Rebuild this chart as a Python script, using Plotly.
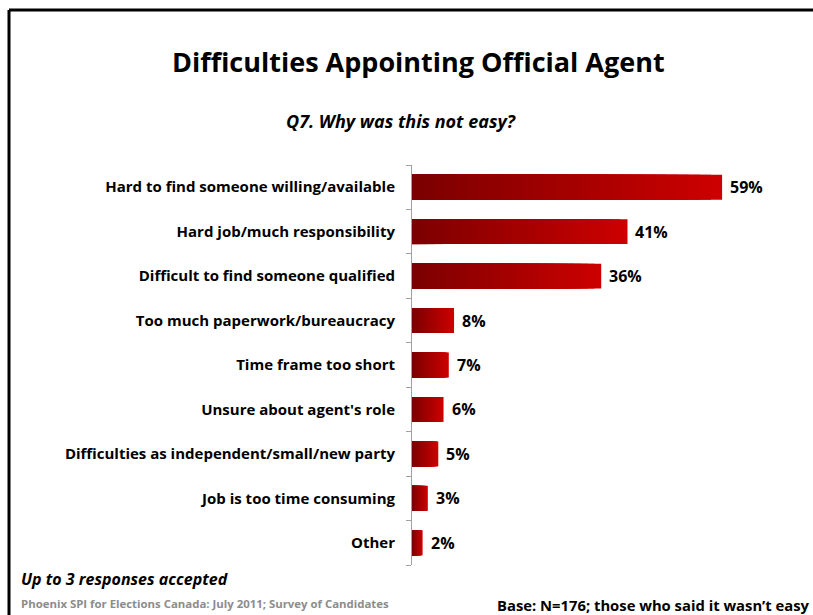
import plotly.graph_objects as go

# Survey responses (share of respondents, %)
categories = [
    "Hard to find someone willing/available",
    "Hard job/much responsibility",
    "Difficult to find someone qualified",
    "Too much paperwork/bureaucracy",
    "Time frame too short",
    "Unsure about agent's role",
    "Difficulties as independent/small/new party",
    "Job is too time consuming",
    "Other",
]
values = [59, 41, 36, 8, 7, 6, 5, 3, 2]
value_labels = ["59%", "41%", "36%", "8%", "7%", "6%", "5%", "3%", "2%"]

W, H = 813, 615
ML, MR, MT, MB = 412, 21, 165, 50
PW, PH = W - ML - MR, H - MT - MB
XMAX = 72.3
FONT = "Open Sans"


def px(x):
    return (x - ML) / PW


def py(y):
    return 1 - (y - MT) / PH


fig = go.Figure()

# Gradient fill: overlay progressively shorter, darker bars on each bar
steps = 28
dark = (0x7A, 0x00, 0x00)
bright = (0xCC, 0x00, 0x00)
for i in range(steps):
    frac = 1 - i / steps
    col = tuple(int(dark[c] + (bright[c] - dark[c]) * frac) for c in range(3))
    fig.add_trace(go.Bar(
        y=categories,
        x=[v * frac for v in values],
        orientation="h",
        marker=dict(color="rgb(%d,%d,%d)" % col, line=dict(width=0)),
        hoverinfo="skip",
        showlegend=False,
    ))

# Value labels at the end of each bar
for cat, v, lab in zip(categories, values, value_labels):
    fig.add_annotation(
        x=v, y=cat, xref="x", yref="y", text="<b>%s</b>" % lab,
        showarrow=False, xanchor="left", xshift=6,
        font=dict(family=FONT, size=16, color="#000000"),
    )

fig.update_layout(
    width=W, height=H,
    margin=dict(l=ML, r=MR, t=MT, b=MB, pad=0),
    paper_bgcolor="white", plot_bgcolor="white",
    barmode="overlay", bargap=0.44,
    font=dict(family=FONT, color="#000000"),
    xaxis=dict(range=[0, XMAX], visible=False, fixedrange=True),
    yaxis=dict(
        categoryorder="array", categoryarray=categories[::-1],
        showline=True, linecolor="#A0A0A0", linewidth=1,
        ticks="outside", tickson="boundaries", ticklen=5, tickcolor="#A0A0A0",
        tickfont=dict(family=FONT, size=15, color="#000000"),
        ticklabelstandoff=13,
        showgrid=False, zeroline=False,
    ),
)

# Bold category labels
fig.update_yaxes(ticktext=["<b>%s</b>" % c for c in categories[::-1]],
                 tickvals=categories[::-1])

# Slide frame (top and left edges)
fig.add_shape(type="line", xref="paper", yref="paper",
              x0=px(9), x1=px(W + 5), y0=py(10), y1=py(10),
              line=dict(color="black", width=3))
fig.add_shape(type="line", xref="paper", yref="paper",
              x0=px(9), x1=px(9), y0=py(10), y1=py(H + 5),
              line=dict(color="black", width=3))

texts = [
    dict(text="<b>Difficulties Appointing Official Agent</b>", x=418, y=61,
         xanchor="center", size=27, color="#000000"),
    dict(text="<b><i>Q7. Why was this not easy?</i></b>", x=401, y=121,
         xanchor="center", size=18, color="#000000"),
    dict(text="<b><i>Up to 3 responses accepted</i></b>", x=19, y=579,
         xanchor="left", size=16, color="#000000"),
    dict(text="<b>Phoenix SPI for Elections Canada: July 2011; Survey of Candidates</b>",
         x=19, y=603, xanchor="left", size=11.4, color="#8C8C8C"),
    dict(text="<b>Base: N=176; those who said it wasn\u2019t easy</b>", x=495, y=605,
         xanchor="left", size=14.8, color="#000000"),
]
for t in texts:
    fig.add_annotation(
        x=px(t["x"]), y=py(t["y"]), xref="paper", yref="paper",
        text=t["text"], showarrow=False, xanchor=t["xanchor"], yanchor="middle",
        font=dict(family=FONT, size=t["size"], color=t["color"]),
    )

fig.write_html("out.html")
